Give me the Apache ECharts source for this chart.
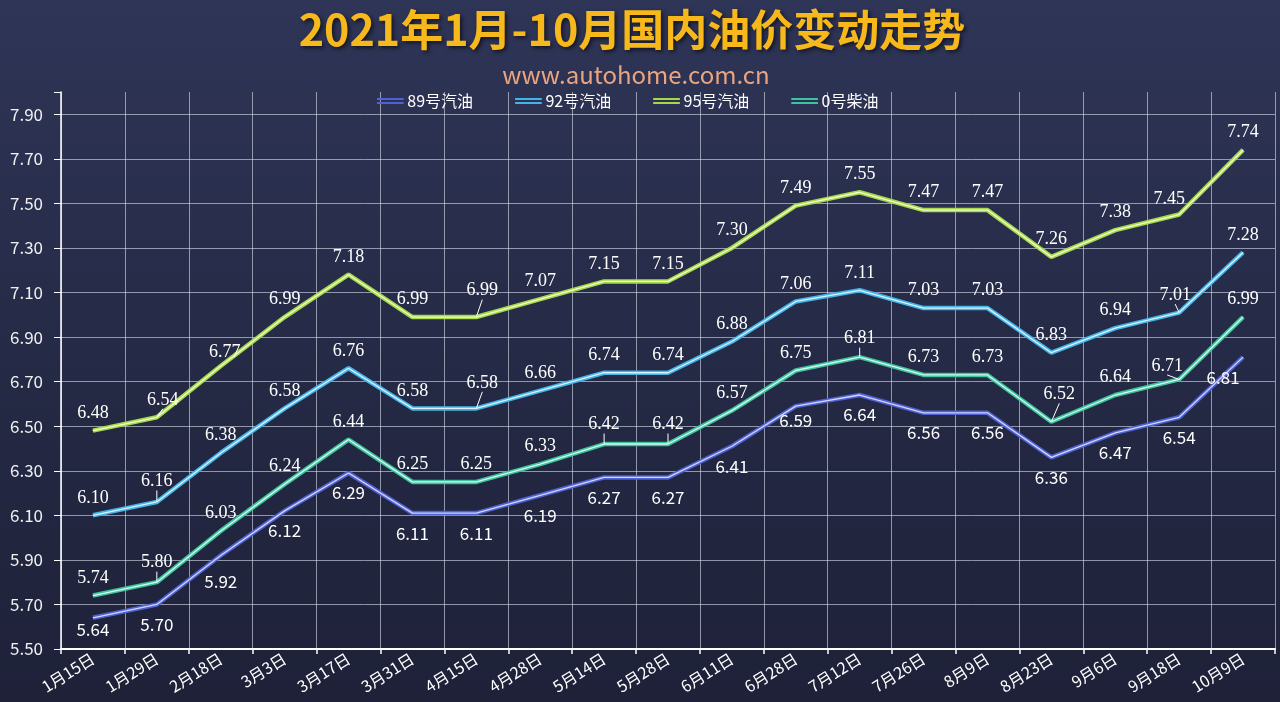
<!DOCTYPE html>
<html>
<head>
<meta charset="utf-8">
<script src="https://cdn.jsdelivr.net/npm/echarts@6/dist/echarts.min.js"></script>
<style>
html,body{margin:0;padding:0;width:1280px;height:702px;overflow:hidden;background:#262b45;}
#c{width:1280px;height:702px;}
</style>
</head>
<body>
<div id="c"></div>
<script>
const categories = ['1月15日','1月29日','2月18日','3月3日','3月17日','3月31日','4月15日','4月28日','5月14日','5月28日','6月11日','6月28日','7月12日','7月26日','8月9日','8月23日','9月6日','9月18日','10月9日'];
const gas89 = [5.64,5.70,5.92,6.12,6.29,6.11,6.11,6.19,6.27,6.27,6.41,6.59,6.64,6.56,6.56,6.36,6.47,6.54,6.81];
const gas92 = [6.10,6.16,6.38,6.58,6.76,6.58,6.58,6.66,6.74,6.74,6.88,7.06,7.11,7.03,7.03,6.83,6.94,7.01,7.28];
const gas95 = [6.48,6.54,6.77,6.99,7.18,6.99,6.99,7.07,7.15,7.15,7.30,7.49,7.55,7.47,7.47,7.26,7.38,7.45,7.74];
const diesel0 = [5.74,5.80,6.03,6.24,6.44,6.25,6.25,6.33,6.42,6.42,6.57,6.75,6.81,6.73,6.73,6.52,6.64,6.71,6.99];
const seriesNames = ['89号汽油','92号汽油','95号汽油','0号柴油'];
const yTicks = {min:5.5, max:8.0, interval:0.2};

// label adjustments (style only): [dx, dy, leader]
const adj = {
  '89号汽油': {0:[0,-8], 2:[0,6], 11:[0,-6], 18:[-20,0]},
  '92号汽油': {1:[0,-3,1], 6:[6,-8,1], 17:[-4,0,1]},
  '95号汽油': {1:[6,0,1], 2:[4,4], 6:[6,-9,1], 17:[-10,2]},
  '0号柴油':  {1:[0,-2,1], 8:[0,-2,1], 9:[0,-2,1], 12:[0,-1,1], 15:[8,-10,1], 17:[-12,4,1]}
};

const colors = ['#5062d2','#45b4e6','#a6d94a','#3fc2a0'];
const centers = ['rgba(215,220,255,0.95)','rgba(225,245,255,0.95)','rgba(245,255,215,0.95)','rgba(220,255,240,0.95)'];
const values = [gas89, gas92, gas95, diesel0];

const serifFont = '"Liberation Serif","DejaVu Serif",serif';
const sansFont = '"Noto Sans CJK SC","Noto Sans",sans-serif';

const series = [];
values.forEach((vals, si) => {
  const name = seriesNames[si];
  const a = adj[name];
  const below = si === 0;
  const pos = below ? 'bottom' : 'top';
  const dist = below ? 11 : 8;
  series.push({
    name: name,
    type: 'line',
    data: vals.map((v, i) => {
      const item = {value: v};
      if (a[i] && a[i][2]) item.labelLine = {show: true};
      return item;
    }),
    symbol: 'circle',
    symbolSize: 1,
    showSymbol: true,
    itemStyle: {color: colors[si]},
    lineStyle: {color: colors[si], width: 4.5},
    z: 2,
    label: {
      show: true,
      position: pos,
      distance: dist,
      color: '#ffffff',
      fontFamily: below ? sansFont : serifFont,
      fontSize: below ? 17 : 18,
      formatter: p => p.value.toFixed(2)
    },
    labelLine: {show: false, lineStyle: {color: '#ffffff', width: 1}},
    labelLayout: function (p) {
      const d = a[p.dataIndex];
      if (d) return {dx: d[0], dy: d[1]};
      return {};
    },
    emphasis: {disabled: true},
    animation: false
  });
  series.push({
    name: name + ' ',
    type: 'line',
    data: vals,
    symbol: 'none',
    lineStyle: {color: centers[si], width: 1.3},
    z: 3,
    silent: true,
    emphasis: {disabled: true},
    animation: false
  });
});

const legendIcon = 'path://M0,0H40V3H0Z M0,6H40V9H0Z';

const chart = echarts.init(document.getElementById('c'), null, {renderer: 'canvas'});
chart.setOption({
  backgroundColor: {
    type: 'linear', x: 0, y: 0, x2: 0, y2: 1,
    colorStops: [{offset: 0, color: '#2f3557'}, {offset: 0.5, color: '#252a46'}, {offset: 1, color: '#1e2138'}]
  },
  animation: false,
  title: [{
    text: '2021年1月-10月国内油价变动走势',
    left: 627, top: 3, textAlign: 'center',
    textStyle: {
      color: '#f7b81c', fontSize: 43, fontWeight: 'bold', fontFamily: sansFont,
      textShadowColor: 'rgba(0,0,0,0.6)', textShadowBlur: 4, textShadowOffsetX: 2, textShadowOffsetY: 2
    }
  }, {
    text: 'www.autohome.com.cn',
    left: 631, top: 58, textAlign: 'center',
    textStyle: {color: '#eaa47f', fontSize: 24, fontWeight: 'normal', fontFamily: sansFont}
  }],
  legend: {
    data: seriesNames.map((n, i) => ({name: n, icon: legendIcon, itemStyle: {color: colors[i]}})),
    top: 88, left: 372,
    itemWidth: 30, itemHeight: 6, itemGap: 42,
    textStyle: {color: '#ffffff', fontSize: 16, fontFamily: sansFont, padding: [0, 0, 0, -3]},
    selectedMode: false
  },
  grid: {left: 61, right: 5, top: 92, bottom: 53, containLabel: false},
  xAxis: {
    type: 'category',
    data: categories,
    boundaryGap: true,
    axisLine: {show: true, lineStyle: {color: '#ffffff', width: 2}},
    axisTick: {show: true, length: 5, lineStyle: {color: '#ffffff', width: 1.5}},
    axisLabel: {color: '#ffffff', fontSize: 16, fontFamily: sansFont, rotate: 32, interval: 0, margin: 8},
    splitLine: {show: true, lineStyle: {color: 'rgba(220,225,240,0.6)', width: 1}}
  },
  yAxis: {
    type: 'value',
    min: yTicks.min, max: yTicks.max, interval: yTicks.interval,
    axisLine: {show: true, lineStyle: {color: '#ffffff', width: 1.5}},
    axisTick: {show: true, length: 7, lineStyle: {color: '#ffffff', width: 1}},
    axisLabel: {
      color: '#f0f0f0', fontSize: 17, fontFamily: sansFont, margin: 18,
      formatter: v => (Math.abs(v - yTicks.max) < 1e-6 ? '' : v.toFixed(2))
    },
    splitLine: {show: true, showMaxLine: false, lineStyle: {color: 'rgba(220,225,240,0.6)', width: 1}}
  },
  series: series
});
</script>
</body>
</html>
